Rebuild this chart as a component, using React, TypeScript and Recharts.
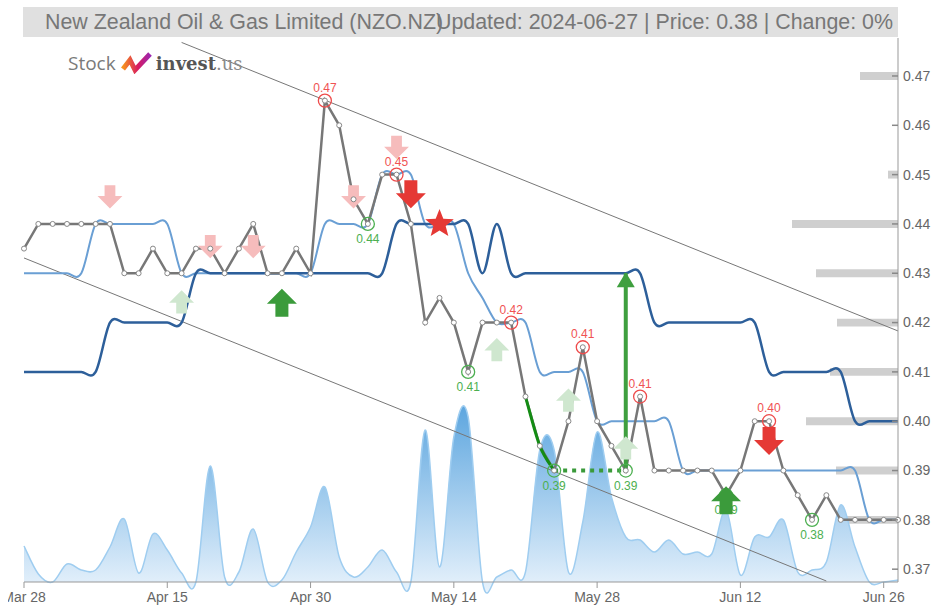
import React from "react"
import { ComposedChart, Line, Area, XAxis, YAxis, ReferenceLine, ReferenceDot, ReferenceArea } from "recharts"

// trading days (NZX), Mar 28 .. Jun 27 2024
const dates = [
  "Mar 28", "Apr 2", "Apr 3", "Apr 4", "Apr 5", "Apr 8", "Apr 9", "Apr 10", "Apr 11", "Apr 12", "Apr 15",
  "Apr 16", "Apr 17", "Apr 18", "Apr 19", "Apr 22", "Apr 23", "Apr 24", "Apr 26", "Apr 29", "Apr 30",
  "May 1", "May 2", "May 3", "May 6", "May 7", "May 8", "May 9", "May 10", "May 13", "May 14",
  "May 15", "May 16", "May 17", "May 20", "May 21", "May 22", "May 23", "May 24", "May 27", "May 28",
  "May 29", "May 30", "May 31", "Jun 4", "Jun 5", "Jun 6", "Jun 7", "Jun 10", "Jun 11", "Jun 12",
  "Jun 13", "Jun 14", "Jun 17", "Jun 18", "Jun 19", "Jun 20", "Jun 21", "Jun 24", "Jun 25", "Jun 26",
  "Jun 27",
]

const price = [
  0.435, 0.44, 0.44, 0.44, 0.44, 0.44, 0.44, 0.43, 0.43, 0.435, 0.43,
  0.43, 0.435, 0.435, 0.43, 0.435, 0.44, 0.43, 0.43, 0.435, 0.43,
  0.465, 0.46, 0.445, 0.44, 0.45, 0.45, 0.44, 0.42, 0.425, 0.42,
  0.41, 0.42, 0.42, 0.42, 0.405, 0.395, 0.39, 0.4, 0.415, 0.4,
  0.395, 0.39, 0.405, 0.39, 0.39, 0.39, 0.39, 0.39, 0.385, 0.39,
  0.4, 0.4, 0.39, 0.385, 0.38, 0.385, 0.38, 0.38, 0.38, 0.38,
  0.38,
]

// dark blue (slow) and light blue (fast) levels
const slowLine = [
  0.41, 0.41, 0.41, 0.41, 0.41, 0.41, 0.42, 0.42, 0.42, 0.42, 0.42,
  0.42, 0.43, 0.43, 0.43, 0.43, 0.43, 0.43, 0.43, 0.43, 0.43,
  0.43, 0.43, 0.43, 0.43, 0.43, 0.44, 0.44, 0.44, 0.44, 0.44,
  0.44, 0.43, 0.44, 0.43, 0.43, 0.43, 0.43, 0.43, 0.43, 0.43,
  0.43, 0.43, 0.43, 0.42, 0.42, 0.42, 0.42, 0.42, 0.42, 0.42,
  0.42, 0.41, 0.41, 0.41, 0.41, 0.41, 0.41, 0.4, 0.4, 0.4,
  0.4,
]

const fastLine = [
  0.43, 0.43, 0.43, 0.43, 0.43, 0.44, 0.44, 0.44, 0.44, 0.44, 0.44,
  0.43, 0.43, 0.43, 0.43, 0.43, 0.43, 0.43, 0.43, 0.43, 0.43,
  0.44, 0.44, 0.44, 0.44, 0.45, 0.45, 0.45, 0.44, 0.44, 0.44,
  0.43, 0.425, 0.42, 0.42, 0.42, 0.41, 0.41, 0.41, 0.41, 0.4,
  0.4, 0.4, 0.4, 0.4, 0.4, 0.39, 0.39, 0.39, 0.39, 0.39,
  0.39, 0.39, 0.39, 0.39, 0.39, 0.39, 0.39, 0.39, 0.38, 0.38,
  0.38,
]

// volume, thousands of shares
const volume = [
  36, 8, 0, 18, 12, 12, 35, 63, 9, 48, 32,
  9, 0, 116, 5, 10, 53, 0, 2, 30, 55,
  95, 25, 5, 15, 32, 10, 0, 152, 15, 145,
  165, 0, 5, 12, 10, 132, 132, 10, 60, 150,
  85, 45, 42, 30, 42, 28, 30, 28, 72, 7,
  45, 45, 62, 10, 12, 20, 77, 35, 0, 0,
  2,
]

const xTicks = [0, 10, 20, 30, 40, 50, 60]
const yTicks = [0.37, 0.38, 0.39, 0.4, 0.41, 0.42, 0.43, 0.44, 0.45, 0.46, 0.47]

// volume-at-price profile on the right edge
const profileLevels = [0.47, 0.46, 0.45, 0.44, 0.43, 0.42, 0.41, 0.4, 0.39, 0.38, 0.37]
const profileVolume = [38, 0, 10, 106, 82, 61, 68, 92, 62, 62, 0]
const profileFull = 874 // profile volume that would span the whole plot width

// trend channel [index, price]
const channelUpper = [[11, 0.4768], [61, 0.4183]]
const channelLower = [[0, 0.4331], [56, 0.3676]]

const highIdx = [21, 26, 34, 39, 43, 52]
const highText = ["0.47", "0.45", "0.42", "0.41", "0.41", "0.40"]
const lowIdx = [24, 31, 37, 42, 49, 55]
const lowText = ["0.44", "0.41", "0.39", "0.39", "0.39", "0.38"]

const signals = [
  { i: 6, level: 0.4455, kind: "sell", strong: false },
  { i: 11, level: 0.4242, kind: "buy", strong: false },
  { i: 13, level: 0.4354, kind: "sell", strong: false },
  { i: 16, level: 0.4354, kind: "sell", strong: false },
  { i: 18, level: 0.424, kind: "buy", strong: true },
  { i: 23, level: 0.4455, kind: "sell", strong: false },
  { i: 26, level: 0.4555, kind: "sell", strong: false },
  { i: 27, level: 0.446, kind: "sell", strong: true },
  { i: 29, level: 0.44, kind: "star", strong: true },
  { i: 33, level: 0.4145, kind: "buy", strong: false },
  { i: 38, level: 0.4043, kind: "buy", strong: false },
  { i: 42, level: 0.3946, kind: "buy", strong: false },
  { i: 49, level: 0.384, kind: "buy", strong: true },
  { i: 52, level: 0.396, kind: "sell", strong: true },
]

const greenRun = [35, 37]
const support = { from: 37, to: 42, level: 0.39 }
const breakout = { i: 42, from: 0.39, to: 0.43 }

const lastIdx = dates.length - 1

const rows = dates.map((date, i) => ({
  i,
  date,
  price: price[i],
  slow: slowLine[i],
  fast: fastLine[i],
  vol: volume[i],
  green: i >= greenRun[0] && i <= greenRun[1] ? price[i] : null,
}))

// catmull-rom style curve (slight overshoot like the original)
const smooth: any = (ctx: any) => {
  let pts: number[][] = []
  let line = NaN
  return {
    areaStart() { line = 0 },
    areaEnd() { line = NaN },
    lineStart() { pts = [] },
    point(x: number, y: number) { pts.push([+x, +y]) },
    lineEnd() {
      const n = pts.length
      if (n) {
        if (line) ctx.lineTo(pts[0][0], pts[0][1])
        else ctx.moveTo(pts[0][0], pts[0][1])
        for (let k = 0; k < n - 1; k++) {
          const p0 = pts[Math.max(k - 1, 0)], p1 = pts[k], p2 = pts[k + 1], p3 = pts[Math.min(k + 2, n - 1)]
          ctx.bezierCurveTo(
            p1[0] + (p2[0] - p0[0]) / 6, p1[1] + (p2[1] - p0[1]) / 6,
            p2[0] - (p3[0] - p1[0]) / 6, p2[1] - (p3[1] - p1[1]) / 6,
            p2[0], p2[1]
          )
        }
      }
      if (line || (line !== 0 && n === 1)) ctx.closePath()
      line = 1 - line
    },
  }
}

const RED = "#e53935"
const GREEN = "#3b9b3b"

const arrowPath = (cx: number, cy: number, down: boolean, s: number) => {
  const sw = 6.5 * s, hw = 15 * s, h1 = 14 * s, h2 = 1 * s
  const d = down ? 1 : -1
  return `M${cx - sw},${cy - d * h1} H${cx + sw} V${cy - d * h2} H${cx + hw} L${cx},${cy + d * h1} L${cx - hw},${cy - d * h2} H${cx - sw} Z`
}

const starPath = (cx: number, cy: number, R: number, r: number) => {
  let d = ""
  for (let k = 0; k < 10; k++) {
    const a = -Math.PI / 2 + (k * Math.PI) / 5
    const rad = k % 2 ? r : R
    d += (k ? "L" : "M") + (cx + rad * Math.cos(a)) + "," + (cy + rad * Math.sin(a))
  }
  return d + "Z"
}

const SignalShape = ({ cx, cy, kind, strong }: any) => {
  if (kind === "star") return <path d={starPath(cx, cy, 15, 6.5)} fill={RED} />
  const color = kind === "buy" ? (strong ? GREEN : "#cfe7cf") : strong ? RED : "#f6bcbc"
  return <path d={arrowPath(cx, cy, kind === "sell", strong ? 1 : 0.83)} fill={color} />
}

const PriceTick = ({ x, y, payload }: any) => (
  <g>
    <line x1={x - 11} x2={x - 5} y1={y} y2={y} stroke="#888" strokeWidth={1.5} />
    <text x={x} y={y} dy="0.35em" fill="#666" fontSize={14}>{Number(payload.value).toFixed(2)}</text>
  </g>
)

function Logo() {
  return (
    <div style={{ position: "absolute", left: 68, top: 50, height: 26, display: "flex", alignItems: "baseline", whiteSpace: "nowrap" }}>
      <span style={{ fontFamily: "'Open Sans', sans-serif", fontSize: 19, color: "#7a7a7a" }}>Stock</span>
      <svg width={34} height={22} style={{ margin: "0 2px 0 4px", alignSelf: "center" }}>
        <defs>
          <linearGradient id="logoGrad" x1="0" y1="0" x2="1" y2="0">
            <stop offset="0%" stopColor="#f7941d" />
            <stop offset="55%" stopColor="#d81b60" />
            <stop offset="100%" stopColor="#9c27b0" />
          </linearGradient>
        </defs>
        <polyline points="3,17 10,8 15,18 30,2" fill="none" stroke="url(#logoGrad)" strokeWidth={5} strokeLinejoin="miter" />
      </svg>
      <span style={{ fontFamily: "'DejaVu Serif', serif", fontWeight: 700, fontSize: 18, color: "#555" }}>invest</span>
      <span style={{ fontFamily: "'DejaVu Serif', serif", fontSize: 18, color: "#8a8a8a" }}>.us</span>
    </div>
  )
}

export default function App() {
  return (
    <div style={{ position: "absolute", left: 0, top: 0, width: 931, height: 608, overflow: "hidden", fontFamily: "'Liberation Sans', Arial, sans-serif", background: "#fff" }}>
      <div style={{ position: "absolute", left: 8, top: 0 }}>
        <ComposedChart width={923} height={608} data={rows} margin={{ top: 38, right: 0, bottom: 0, left: 16 }}>
          <defs>
            <linearGradient id="volFill" x1="0" y1="0" x2="0" y2="1">
              <stop offset="0%" stopColor="#5da6df" stopOpacity={1} />
              <stop offset="100%" stopColor="#e9f3fc" stopOpacity={1} />
            </linearGradient>
          </defs>
          <XAxis
            dataKey="i"
            type="number"
            domain={[0, lastIdx]}
            ticks={xTicks}
            interval={0}
            tickFormatter={(v: number) => dates[v]}
            height={26}
            stroke="#999"
            tickSize={6}
            tickMargin={4}
            tick={{ fill: "#666", fontSize: 14 }}
          />
          <YAxis
            yAxisId="p"
            orientation="right"
            type="number"
            domain={[0.3674, 0.4777]}
            ticks={yTicks}
            interval={0}
            width={33}
            stroke="#999"
            tickSize={0}
            tickMargin={5}
            tick={<PriceTick />}
          />
          <YAxis yAxisId="v" type="number" domain={[0, 544]} hide />

          {profileLevels.map((lv, k) =>
            profileVolume[k] > 0 ? (
              <ReferenceArea
                key={"pr" + k}
                yAxisId="p"
                x1={lastIdx - (profileVolume[k] / profileFull) * lastIdx}
                x2={lastIdx}
                y1={lv - 0.0008}
                y2={lv + 0.0008}
                fill="#cfcfcf"
                fillOpacity={1}
                stroke="none"
                ifOverflow="visible"
              />
            ) : null
          )}

          <Area
            yAxisId="v"
            dataKey="vol"
            type={smooth}
            stroke="#9fcdf0"
            strokeWidth={1.5}
            fill="url(#volFill)"
            fillOpacity={1}
            dot={false}
            activeDot={false}
            isAnimationActive={false}
          />

          <ReferenceLine
            yAxisId="p"
            segment={[{ x: channelUpper[0][0], y: channelUpper[0][1] }, { x: channelUpper[1][0], y: channelUpper[1][1] }]}
            stroke="#777"
            strokeWidth={1}
            ifOverflow="visible"
          />
          <ReferenceLine
            yAxisId="p"
            segment={[{ x: channelLower[0][0], y: channelLower[0][1] }, { x: channelLower[1][0], y: channelLower[1][1] }]}
            stroke="#777"
            strokeWidth={1}
            ifOverflow="visible"
          />

          {signals.filter((s) => !s.strong).map((s) => (
            <ReferenceDot
              key={"fs" + s.i}
              yAxisId="p"
              x={s.i}
              y={s.level}
              ifOverflow="visible"
              shape={(p: any) => <SignalShape cx={p.cx} cy={p.cy} kind={s.kind} strong={false} />}
            />
          ))}

          <Line yAxisId="p" dataKey="fast" type={smooth} stroke="#6a9fd4" strokeWidth={2} dot={false} activeDot={false} isAnimationActive={false} />
          <Line yAxisId="p" dataKey="slow" type={smooth} stroke="#2d5f9a" strokeWidth={2.5} dot={false} activeDot={false} isAnimationActive={false} />
          <Line
            yAxisId="p"
            dataKey="price"
            type="linear"
            stroke="#777"
            strokeWidth={2.5}
            dot={{ r: 2.5, fill: "#fff", stroke: "#888", strokeWidth: 1 }}
            activeDot={false}
            isAnimationActive={false}
          />
          <Line yAxisId="p" dataKey="green" type={smooth} stroke="#148c14" strokeWidth={3} dot={false} activeDot={false} connectNulls={false} isAnimationActive={false} />

          <ReferenceLine
            yAxisId="p"
            segment={[{ x: support.from, y: support.level }, { x: support.to, y: support.level }]}
            stroke="#3a9a3a"
            strokeWidth={4}
            strokeDasharray="4 5"
            ifOverflow="visible"
          />

          {highIdx.map((i, k) => (
            <ReferenceDot
              key={"h" + i}
              yAxisId="p"
              x={i}
              y={price[i]}
              ifOverflow="visible"
              shape={(p: any) => (
                <g>
                  <circle cx={p.cx} cy={p.cy} r={6.5} fill="none" stroke="#ee4b4b" strokeWidth={1.3} />
                  <text x={p.cx} y={p.cy - 9} textAnchor="middle" fill="#f05353" fontSize={12}>{highText[k]}</text>
                </g>
              )}
            />
          ))}
          {lowIdx.map((i, k) => (
            <ReferenceDot
              key={"l" + i}
              yAxisId="p"
              x={i}
              y={price[i]}
              ifOverflow="visible"
              shape={(p: any) => (
                <g>
                  <circle cx={p.cx} cy={p.cy} r={6.5} fill="none" stroke="#4caf50" strokeWidth={1.3} />
                  <text x={p.cx} y={p.cy + 19} textAnchor="middle" fill="#4caf50" fontSize={12}>{lowText[k]}</text>
                </g>
              )}
            />
          ))}

          {signals.filter((s) => s.strong).map((s) => (
            <ReferenceDot
              key={"ss" + s.i}
              yAxisId="p"
              x={s.i}
              y={s.level}
              ifOverflow="visible"
              shape={(p: any) => <SignalShape cx={p.cx} cy={p.cy} kind={s.kind} strong />}
            />
          ))}

          <ReferenceLine
            yAxisId="p"
            segment={[{ x: breakout.i, y: breakout.from }, { x: breakout.i, y: breakout.to }]}
            stroke="#3f9f3f"
            strokeWidth={4}
            ifOverflow="visible"
          />
          <ReferenceDot
            yAxisId="p"
            x={breakout.i}
            y={breakout.to}
            ifOverflow="visible"
            shape={(p: any) => (
              <path d={`M${p.cx},${p.cy - 1} L${p.cx + 9},${p.cy + 14} L${p.cx - 9},${p.cy + 14} Z`} fill="#3f9f3f" />
            )}
          />
        </ComposedChart>
      </div>

      <div style={{ position: "absolute", left: 23, top: 7, width: 875, height: 30, background: "#e0e0e0" }}>
        <span style={{ position: "absolute", left: 22, top: 0, lineHeight: "30px", fontSize: 21.4, color: "#777", whiteSpace: "nowrap" }}>
          New Zealand Oil &amp; Gas Limited (NZO.NZ)
        </span>
        <span style={{ position: "absolute", right: 5, top: 0, lineHeight: "30px", fontSize: 21.4, color: "#777", whiteSpace: "nowrap" }}>
          Updated: 2024-06-27 | Price: 0.38 | Change: 0%
        </span>
      </div>
      <Logo />
    </div>
  )
}
